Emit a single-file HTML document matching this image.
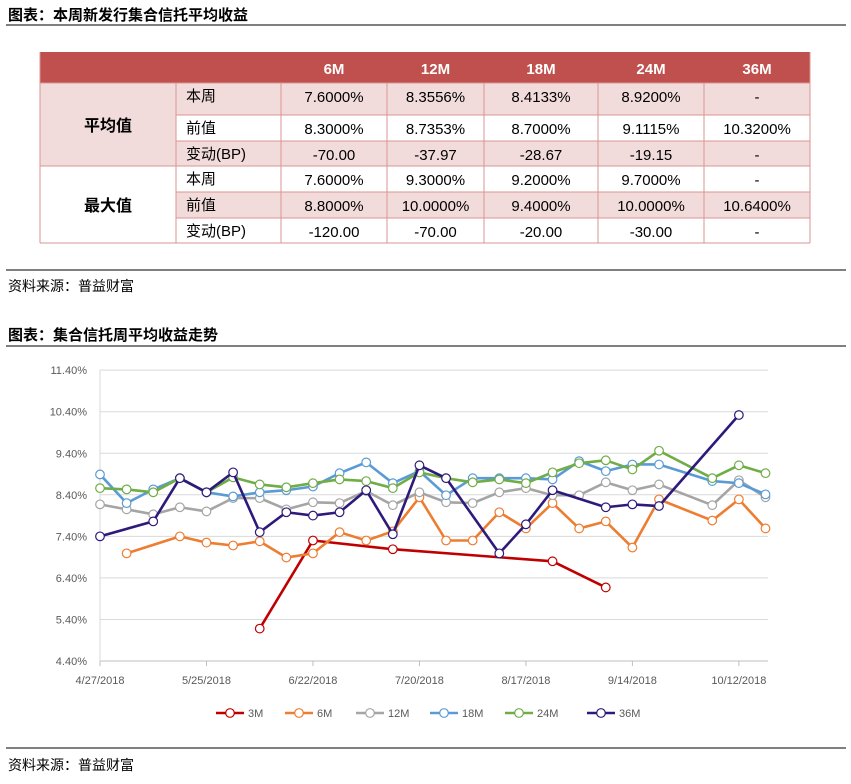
<!DOCTYPE html>
<html><head><meta charset="utf-8"><style>
body{margin:0;background:#fff;width:851px;height:779px;overflow:hidden;font-family:"Liberation Sans","Noto Sans CJK SC",sans-serif}
svg text{font-family:"Liberation Sans","Noto Sans CJK SC",sans-serif}
</style></head><body>
<svg width="851" height="779" xmlns="http://www.w3.org/2000/svg" id="root">
<text x="8" y="20" font-size="15" font-weight="bold" fill="#000">图表：本周新发行集合信托平均收益</text>
<line x1="6" y1="25" x2="846" y2="25" stroke="#000" stroke-width="1"/>
<g id="tbl"></g>
<line x1="6" y1="270" x2="846" y2="270" stroke="#000" stroke-width="1"/>
<text x="8" y="291" font-size="14" fill="#000">资料来源：普益财富</text>
<text x="8" y="340" font-size="15" font-weight="bold" fill="#000">图表：集合信托周平均收益走势</text>
<line x1="6" y1="346" x2="846" y2="346" stroke="#000" stroke-width="1"/>
<g id="chart"></g>
<line x1="6" y1="748" x2="846" y2="748" stroke="#000" stroke-width="1"/>
<text x="8" y="770" font-size="14" fill="#000">资料来源：普益财富</text>
</svg>
<script>
const NS="http://www.w3.org/2000/svg";
function mk(tag,attrs,parent,txt){const e=document.createElementNS(NS,tag);for(const k in attrs)e.setAttribute(k,attrs[k]);if(txt!==undefined)e.textContent=txt;parent.appendChild(e);return e;}
// table
const tbl=document.getElementById('tbl');
const colX=[40,176,281,387,484,598,704,810];
const rowY=[52,83,115,141,166,192,218,243];
const headers=["6M","12M","18M","24M","36M"];
const subLabels=["本周","前值","变动(BP)","本周","前值","变动(BP)"];
const cells=[
["7.6000%","8.3556%","8.4133%","8.9200%","-"],
["8.3000%","8.7353%","8.7000%","9.1115%","10.3200%"],
["-70.00","-37.97","-28.67","-19.15","-"],
["7.6000%","9.3000%","9.2000%","9.7000%","-"],
["8.8000%","10.0000%","9.4000%","10.0000%","10.6400%"],
["-120.00","-70.00","-20.00","-30.00","-"]];
const pinkRows=[true,false,true,false,true,false];
let r=mk('rect',{x:40,y:52,width:770,height:31,fill:"#c0504d"},tbl);


headers.forEach((h,i)=>{const t=mk('text',{x:(colX[i+2]+colX[i+3])/2,y:74,'text-anchor':'middle','font-size':15,'font-weight':'bold',fill:'#fff'},tbl,h);

});
mk('rect',{x:40,y:83,width:136,height:83,fill:"#f2dcdb"},tbl);
for(let i=0;i<6;i++){
 const y0=rowY[i+1],y1=rowY[i+2];
 mk('rect',{x:176,y:y0,width:634,height:y1-y0,fill:pinkRows[i]?"#f2dcdb":"#fff"},tbl);
 const s=mk('text',{x:186,y:y0+18,'font-size':15,fill:'#000'},tbl,subLabels[i]);
 
 
 cells[i].forEach((c,j)=>{const t=mk('text',{x:(colX[j+2]+colX[j+3])/2,y:y0+19,'text-anchor':'middle','font-size':15,fill:'#000'},tbl,c);
 
 });
}
let g1=mk('text',{x:108,y:131,'text-anchor':'middle','font-size':16,'font-weight':'bold'},tbl,"平均值");

let g2=mk('text',{x:108,y:211,'text-anchor':'middle','font-size':16,'font-weight':'bold'},tbl,"最大值");

const bc="#d99694";
rowY.slice(1).forEach((y,i)=>{const x0=(i===0||i===3||i===6)?40:176;mk('line',{x1:x0,y1:y,x2:810,y2:y,stroke:bc},tbl);});
mk('line',{x1:40,y1:52,x2:40,y2:243,stroke:bc},tbl);
mk('line',{x1:810,y1:52,x2:810,y2:243,stroke:bc},tbl);
colX.slice(1,7).forEach(x=>mk('line',{x1:x,y1:83,x2:x,y2:243,stroke:bc},tbl));
</script>
<script>
// chart data
const weeks=["4/27/2018","5/4","5/11","5/18","5/25/2018","6/1","6/8","6/15","6/22/2018","6/29","7/6","7/13","7/20/2018","7/27","8/3","8/10","8/17/2018","8/24","8/31","9/7","9/14/2018","9/21","9/28","10/5","10/12/2018","10/19"];
const tickLabels=["4/27/2018","5/25/2018","6/22/2018","7/20/2018","8/17/2018","9/14/2018","10/12/2018"];
const yTicks=[4.4,5.4,6.4,7.4,8.4,9.4,10.4,11.4];
const seriesNames=["3M","6M","12M","18M","24M","36M"];
const seriesColors=["#c00000","#ed7d31","#a5a5a5","#5b9bd5","#70ad47","#2e1a7a"];
const s3M=[null,null,null,null,null,null,5.18,null,7.30,null,null,7.09,null,null,null,null,null,6.80,null,6.17,null,null,null,null,null,null];
const s6M=[null,6.99,null,7.40,7.25,7.18,7.28,6.89,6.99,7.50,7.30,7.52,8.34,7.30,7.30,7.98,7.59,8.20,7.59,7.76,7.13,8.29,null,7.78,8.29,7.59];
const s12M=[8.17,8.05,7.93,8.10,8.00,8.32,8.32,8.05,8.22,8.20,8.49,8.15,8.46,8.22,8.20,8.46,8.56,8.39,8.39,8.70,8.51,8.65,null,8.15,8.75,8.34];
const s18M=[8.89,8.20,8.53,8.80,8.46,8.36,8.46,8.51,8.60,8.92,9.18,8.68,8.97,8.39,8.80,8.80,8.80,8.77,9.21,8.97,9.13,9.13,null,8.73,8.68,8.41];
const s24M=[8.56,8.53,8.46,8.80,8.46,8.82,8.65,8.58,8.68,8.77,8.73,8.56,8.94,8.80,8.70,8.77,8.68,8.94,9.16,9.23,9.01,9.46,null,8.80,9.11,8.92];
const s36M=[7.40,null,7.76,8.80,8.46,8.94,7.50,7.98,7.90,7.98,8.51,7.45,9.11,8.80,null,6.99,7.69,8.51,null,8.10,8.17,8.13,null,null,10.32,null];
const allSeries=[s3M,s6M,s12M,s18M,s24M,s36M];

const ch=document.getElementById('chart');
const X0=100,DX=26.62,PL=100,PR=768;
const xS=i=>X0+DX*i;
const yS=v=>661-(v-4.4)*41.55;
yTicks.forEach(v=>{
 mk('line',{x1:PL,y1:yS(v),x2:PR,y2:yS(v),stroke:v===4.4?"#bfbfbf":"#d9d9d9"},ch);
 const t=mk('text',{x:87,y:yS(v)+4,'text-anchor':'end','font-size':11,fill:'#595959'},ch,v.toFixed(2)+"%");
 
 
});
mk('line',{x1:PL,y1:370,x2:PL,y2:661,stroke:"#d9d9d9"},ch);
tickLabels.forEach(lb=>{
 const i=weeks.indexOf(lb);
 mk('line',{x1:xS(i),y1:661,x2:xS(i),y2:666,stroke:"#bfbfbf"},ch);
 const t=mk('text',{x:xS(i),y:684,'text-anchor':'middle','font-size':11,fill:'#595959'},ch,lb);
 
 
});
allSeries.forEach((s,k)=>{
 const pts=[];
 s.forEach((v,i)=>{if(v!==null)pts.push([xS(i),yS(v)]);});
 const g=mk('g',{},ch);
 
 
 mk('polyline',{points:pts.map(p=>p.join(',')).join(' '),fill:'none',stroke:seriesColors[k],'stroke-width':2.6,'stroke-linejoin':'round'},g);
 pts.forEach(p=>{
  const c=mk('circle',{cx:p[0],cy:p[1],r:4.3,fill:'#fff',stroke:seriesColors[k],'stroke-width':1.2},g);
  
  
 });
});
const legX=[216,285,356,430,505,587];
seriesNames.forEach((n,k)=>{
 const g=mk('g',{},ch);
 
 
 mk('line',{x1:legX[k],y1:713,x2:legX[k]+28,y2:713,stroke:seriesColors[k],'stroke-width':2.6},g);
 mk('circle',{cx:legX[k]+14,cy:713,r:4.3,fill:'#fff',stroke:seriesColors[k],'stroke-width':1.2},g);
 mk('text',{x:legX[k]+32,y:717,'font-size':11,fill:'#595959'},g,n);
});
</script>
</body></html>
